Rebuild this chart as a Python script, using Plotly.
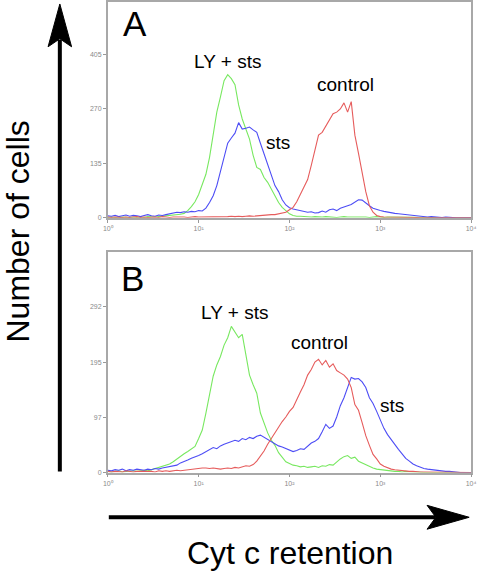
import plotly.graph_objects as go

# channel positions (decades of fluorescence, 0.04-decade bins)
log_channel = [round(i * 0.04, 2) for i in range(101)]
channel = [10 ** v for v in log_channel]

# Panel A histograms (cell counts)
a_ly_sts = [1,2,1,0,2,1,1,2,1,2,1,3,2,2,3,4,
            4,5,6,7,9,11,18,28,40,58,82,108,150,205,262,
            300,340,355,345,330,280,245,220,195,155,125,120,100,88,70,
            52,38,26,17,10,6,4,4,3,3,
            2,3,2,2,3,2,2,1,2,3,2,2,3,2,2,
            2,1,2,3,2,1,2,2,1,1,2,1,1,2,1,
            1,1,1,1,1] + [0] * 10
a_sts = [5,4,6,3,5,7,4,6,5,3,6,8,5,4,7,6,8,10,
         12,14,13,15,14,16,15,18,17,24,38,55,80,
         115,150,185,198,210,236,220,222,225,218,212,185,158,135,105,
         80,65,45,32,25,22,20,19,17,14,15,12,13,17,14,
         20,22,18,24,28,30,33,38,45,44,36,30,24,20,18,
         16,14,12,11,10,9,8,6,5,4,3,3,2,3,2,2,1,2,1] + [0] * 6
a_control = [2,1,2,1,1,2,1,2,3,1,2,1,2,2,1,3,2,1,2,2,3,2,1,2,3,2,2,3,2,3,
             3,2,3,3,4,3,4,3,4,5,4,5,6,6,7,8,
             8,10,12,14,20,26,40,58,78,95,130,170,205,212,228,
             245,258,262,270,285,262,288,205,160,110,65,30,14,6,3,
             2,2,2,2,2,1,1,1,1,1] + [0] * 15

# Panel B histograms (cell counts)
b_ly_sts = [2,1,2,3,1,2,2,3,2,3,4,3,5,
            6,8,10,13,15,19,24,28,33,37,42,46,60,75,105,135,170,190,
            205,225,238,258,248,238,244,210,172,155,140,105,88,70,57,
            48,35,26,19,16,13,12,10,11,9,10,11,9,12,11,
            14,13,19,24,28,30,25,27,20,17,13,10,8,6,5,
            4,3,3,2,2,1,2,1,1,1] + [0] * 15
b_sts = [4,3,5,4,6,3,5,4,6,5,4,6,5,7,6,8,
         9,10,12,13,17,19,22,25,27,30,33,37,40,44,42,
         47,50,52,54,57,55,60,58,62,60,64,66,62,58,54,
         50,47,45,42,40,37,39,42,41,46,52,55,60,72,85,
         78,82,98,118,132,150,168,165,166,160,150,132,122,108,92,
         78,67,58,48,41,33,25,20,15,12,9,7,6,5,4,
         3,3,2,2,1,1] + [0] * 4
b_control = [2,1,2,2,1,3,2,1,2,2,3,2,2,1,3,2,3,2,3,4,3,
             4,5,6,6,7,8,8,7,8,7,6,7,8,7,9,8,10,12,11,14,
             20,28,38,50,60,72,80,90,98,108,115,130,142,155,172,
             182,195,200,190,198,186,192,180,176,172,165,150,120,110,88,
             65,48,32,24,15,11,8,6,5,4,3,2,2,2,1,
             1,1,1,1,1] + [0] * 10

x_tickvals = [1, 10, 100, 1000, 10000]
x_ticktext = ["10⁰", "10¹", "10²", "10³", "10⁴"]
a_ytickvals = [0, 135, 270, 405]
b_ytickvals = [0, 97.5, 195, 292.5]
b_yticktext = ["0", "97", "195", "292"]

GREEN = "#78e860"
BLUE = "#4d4df5"
RED = "#e65c5c"

W, H = 482, 572
def px(x):
    return x / W
def py(y):
    return 1 - y / H

fig = go.Figure()
for ys, col in [(a_ly_sts, GREEN), (a_sts, BLUE), (a_control, RED)]:
    fig.add_trace(go.Scatter(x=channel, y=ys, mode="lines", line=dict(color=col, width=1.1),
                             xaxis="x", yaxis="y", showlegend=False, hoverinfo="skip"))
for ys, col in [(b_ly_sts, GREEN), (b_sts, BLUE), (b_control, RED)]:
    fig.add_trace(go.Scatter(x=channel, y=ys, mode="lines", line=dict(color=col, width=1.1),
                             xaxis="x2", yaxis="y2", showlegend=False, hoverinfo="skip"))

axis_common = dict(showline=True, mirror=True, linecolor="#a8a8a8", linewidth=1.5,
                   showgrid=False, zeroline=False, ticks="outside", ticklen=3,
                   tickcolor="#999999", tickfont=dict(size=7, color="#8a8a8a",
                   family="Arial, Liberation Sans, sans-serif"))

xdom = [px(105), px(476)]
fig.update_layout(
    width=W, height=H, margin=dict(l=0, r=0, t=0, b=0),
    paper_bgcolor="white", plot_bgcolor="white",
    xaxis=dict(type="log", range=[0, 4], domain=xdom, anchor="y",
               tickvals=x_tickvals, ticktext=x_ticktext, **axis_common),
    yaxis=dict(range=[0, 535], domain=[py(219), py(2)], anchor="x",
               tickvals=a_ytickvals, ticktext=[str(v) for v in a_ytickvals], **axis_common),
    xaxis2=dict(type="log", range=[0, 4], domain=xdom, anchor="y2",
                tickvals=x_tickvals, ticktext=x_ticktext, **axis_common),
    yaxis2=dict(range=[0, 390], domain=[py(475), py(253)], anchor="x2",
                tickvals=b_ytickvals, ticktext=b_yticktext, **axis_common),
    font=dict(family="Arial, Liberation Sans, sans-serif", color="black"),
)

def ann(text, x, y, size, angle=0):
    fig.add_annotation(text=text, x=px(x), y=py(y), xref="paper", yref="paper",
                       showarrow=False, xanchor="center", yanchor="middle",
                       textangle=angle, font=dict(size=size, color="black"))

ann("A", 133, 24, 35)
ann("B", 130, 280, 35)
ann("LY + sts", 227, 62, 19)
ann("control", 348, 85, 19)
ann("sts", 279, 143, 19)
ann("LY + sts", 234, 314, 19)
ann("control", 321, 344, 19)
ann("sts", 395, 408, 19)
ann("Number of cells", 13, 233, 32, angle=-90)
ann("Cyt c retention", 291, 556, 32)

# big arrows
fig.add_shape(type="line", xref="paper", yref="paper",
              x0=px(56), y0=py(474), x1=px(56), y1=py(40),
              line=dict(color="black", width=4))
fig.add_shape(type="path", xref="paper", yref="paper",
              path=f"M {px(56)} {py(4)} L {px(68)} {py(47)} L {px(56)} {py(39)} L {px(44)} {py(47)} Z",
              fillcolor="black", line=dict(color="black", width=1))
fig.add_shape(type="line", xref="paper", yref="paper",
              x0=px(106), y0=py(520), x1=px(440), y1=py(520),
              line=dict(color="black", width=4))
fig.add_shape(type="path", xref="paper", yref="paper",
              path=f"M {px(474)} {py(520)} L {px(431)} {py(508)} L {px(440)} {py(520)} L {px(431)} {py(532)} Z",
              fillcolor="black", line=dict(color="black", width=1))

fig.write_html("out.html", config={"displayModeBar": False},
               post_script="document.body.style.margin='0';document.body.style.overflow='hidden';")
